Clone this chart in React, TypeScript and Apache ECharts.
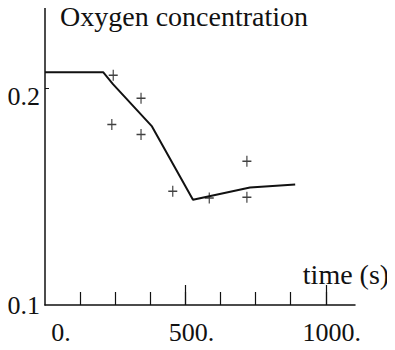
import React, { useEffect, useRef } from "react";
import * as echarts from "echarts";

// Model curve (time in s, O2 fraction)
const lineTimes = [0, 207, 242, 381, 527, 730, 891];
const lineValues = [0.2074, 0.2074, 0.2019, 0.1824, 0.1486, 0.1542, 0.1556];

// Measured points
const pointTimes = [243, 238, 342, 342, 455, 585, 719, 719];
const pointValues = [0.206, 0.1833, 0.1954, 0.1787, 0.1525, 0.1494, 0.1663, 0.1497];

const xTickValues = [125, 250, 375, 500, 625, 750, 875, 1000];
const xMajorTicks = [500, 1000];
const xLabelValues = [0, 500, 1000];
const yLabelValues = [0.1, 0.2];
const yTickValues = [0.2];

const title = "Oxygen concentration";
const xName = "time (s)";

const FONT = "'Liberation Serif', 'DejaVu Serif', serif";

export default function App() {
  const ref = useRef<HTMLDivElement>(null);
  useEffect(() => {
    if (!ref.current) return;
    const chart = echarts.init(ref.current, null, { renderer: "svg" });
    const axisLine = { show: true, lineStyle: { color: "#111", width: 1.5 } };
    chart.setOption({
      animation: false,
      backgroundColor: "#fff",
      textStyle: { fontFamily: FONT },
      title: {
        text: title,
        left: 60,
        top: 2,
        padding: 0,
        textStyle: { fontFamily: FONT, fontSize: 28, fontWeight: "normal", color: "#111" },
      },
      grid: { left: 45, right: 40, top: 7, bottom: 45, containLabel: false },
      xAxis: [
        {
          type: "value",
          min: 0,
          max: 1104,
          axisLine,
          splitLine: { show: false },
          axisTick: {
            show: true,
            inside: true,
            length: 13,
            customValues: xTickValues,
            lineStyle: { color: "#111", width: 1.2 },
          },
          axisLabel: {
            customValues: xLabelValues,
            margin: 14,
            fontFamily: FONT,
            fontSize: 26,
            color: "#111",
            formatter: (v: number) => (v === 0 ? "{z|" + v + ".}" : "{n|" + v + ".}"),
            rich: {
              z: { fontFamily: FONT, fontSize: 26, color: "#111", padding: [0, 0, 0, 32] },
              n: { fontFamily: FONT, fontSize: 26, color: "#111", padding: [0, 0, 0, 12] },
            },
          },
          name: xName,
          nameLocation: "end",
          nameGap: 0,
          nameTextStyle: {
            fontFamily: FONT,
            fontSize: 28,
            color: "#111",
            align: "center",
            verticalAlign: "bottom",
            padding: [0, 18, 17, 0],
          },
        },
        {
          type: "value",
          min: 0,
          max: 1104,
          position: "bottom",
          axisLine: { show: false },
          splitLine: { show: false },
          axisLabel: { show: false },
          axisTick: {
            show: true,
            inside: true,
            length: 20,
            customValues: xMajorTicks,
            lineStyle: { color: "#111", width: 1.2 },
          },
        },
      ],
      yAxis: {
        type: "value",
        min: 0.1,
        max: 0.2375,
        axisLine,
        splitLine: { show: false },
        axisTick: {
          show: true,
          inside: true,
          length: 4,
          customValues: yTickValues,
          lineStyle: { color: "#111", width: 1 },
        },
        axisLabel: {
          customValues: yLabelValues,
          margin: 5,
          fontFamily: FONT,
          fontSize: 26,
          color: "#111",
          formatter: (v: number) =>
            Math.abs(v - 0.2) < 1e-9 ? "{d|" + v.toFixed(1) + "}" : v.toFixed(1),
          rich: {
            d: { fontFamily: FONT, fontSize: 26, color: "#111", padding: [16, 0, 0, 0] },
          },
        },
      },
      series: [
        {
          type: "line",
          data: lineTimes.map((t, i) => [t, lineValues[i]]),
          showSymbol: false,
          lineStyle: { color: "#111", width: 2 },
          silent: true,
        },
        {
          type: "scatter",
          data: pointTimes.map((t, i) => [t, pointValues[i]]),
          symbol: "path://M5,0L5,12M0,6L10,6",
          symbolSize: [9, 11],
          itemStyle: { color: "none", borderColor: "#111", borderWidth: 1.3 },
          silent: true,
        },
      ],
    });
    return () => chart.dispose();
  }, []);
  return <div ref={ref} style={{ width: 395, height: 350, margin: -8 }} />;
}
